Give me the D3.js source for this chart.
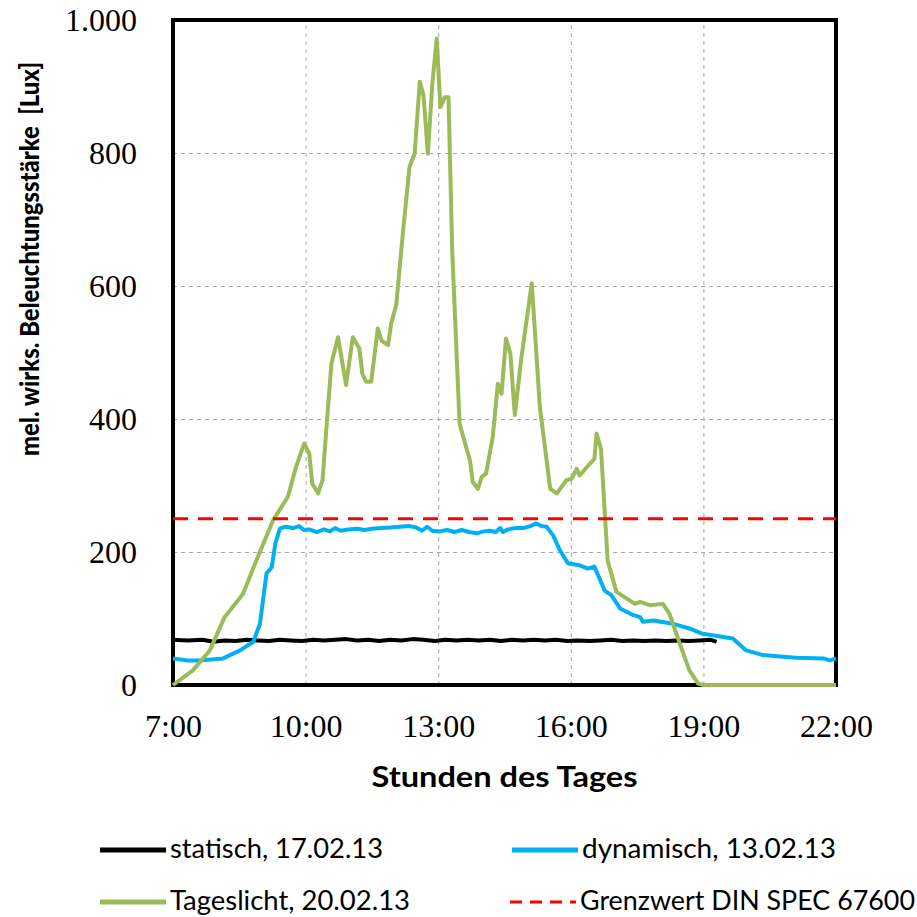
<!DOCTYPE html>
<html>
<head>
<meta charset="utf-8">
<script src="https://cdn.jsdelivr.net/npm/d3@7"></script>
<style>
  body { margin: 0; background: #fff; }
  svg { display: block; }
</style>
</head>
<body>
<div class="chart-container"></div>
<script>
// values: [time, lux]
const statisch = [
  ["7:00", 68], ["7:20", 67], ["7:40", 68], ["7:55", 65], ["8:10", 67], ["8:25", 66],
  ["8:40", 68], ["8:55", 67], ["9:10", 66], ["9:25", 68], ["9:40", 67], ["9:55", 66],
  ["10:10", 68], ["10:25", 67], ["10:40", 68], ["10:55", 69], ["11:10", 67], ["11:25", 68],
  ["11:40", 66], ["11:55", 68], ["12:10", 67], ["12:25", 69], ["12:40", 68], ["12:55", 66],
  ["13:10", 68], ["13:25", 67], ["13:40", 68], ["13:55", 67], ["14:10", 68], ["14:25", 66],
  ["14:40", 68], ["14:55", 67], ["15:10", 68], ["15:25", 67], ["15:40", 68], ["15:55", 66],
  ["16:10", 67], ["16:25", 66], ["16:40", 67], ["16:55", 68], ["17:10", 66], ["17:25", 67],
  ["17:40", 66], ["17:55", 67], ["18:10", 66], ["18:25", 67], ["18:40", 66], ["18:55", 67],
  ["19:10", 68], ["19:18", 65]
];

const dynamisch = [
  ["7:00", 40], ["7:20", 37], ["7:36", 37], ["8:08", 40], ["8:31", 52], ["8:49", 65],
  ["8:58", 92], ["9:07", 168], ["9:14", 177], ["9:19", 213], ["9:25", 235], ["9:33", 238],
  ["9:43", 236], ["9:51", 239], ["9:58", 233], ["10:05", 234], ["10:15", 230], ["10:25", 234],
  ["10:33", 231], ["10:40", 236], ["10:48", 232], ["10:58", 234], ["11:10", 235], ["11:20", 233],
  ["11:30", 235], ["11:42", 236], ["11:55", 237], ["12:08", 238], ["12:20", 239], ["12:30", 237],
  ["12:38", 232], ["12:45", 238], ["12:52", 232], ["13:02", 231], ["13:12", 233], ["13:22", 230],
  ["13:32", 233], ["13:42", 230], ["13:52", 228], ["14:02", 231], ["14:10", 232], ["14:18", 230],
  ["14:24", 236], ["14:28", 230], ["14:35", 234], ["14:45", 236], ["14:55", 236], ["15:05", 239],
  ["15:13", 243], ["15:20", 239], ["15:27", 238], ["15:36", 225], ["15:45", 203], ["15:56", 183],
  ["16:12", 180], ["16:23", 175], ["16:32", 178], ["16:46", 142], ["16:55", 135], ["17:07", 115],
  ["17:25", 105], ["17:34", 102], ["17:38", 95], ["17:52", 97], ["18:19", 92], ["18:41", 85],
  ["18:59", 77], ["19:40", 70], ["19:58", 52], ["20:21", 45], ["20:44", 43], ["21:06", 41],
  ["21:43", 40], ["21:52", 37], ["22:00", 40]
];

const tageslicht = [
  ["7:00", 0], ["7:27", 22], ["7:50", 52], ["8:10", 102], ["8:35", 137], ["8:53", 187],
  ["9:16", 248], ["9:36", 283], ["9:47", 328], ["9:58", 363], ["10:05", 348], ["10:09", 303],
  ["10:17", 288], ["10:23", 308], ["10:28", 383], ["10:35", 483], ["10:44", 523], ["10:55", 451],
  ["11:04", 523], ["11:13", 506], ["11:17", 468], ["11:22", 456], ["11:29", 456], ["11:38", 536],
  ["11:43", 518], ["11:52", 511], ["11:56", 543], ["12:03", 571], ["12:12", 679], ["12:21", 779],
  ["12:28", 799], ["12:35", 907], ["12:40", 887], ["12:46", 799], ["12:52", 904], ["12:58", 972],
  ["13:03", 869], ["13:09", 884], ["13:14", 884], ["13:19", 654], ["13:29", 393], ["13:43", 338],
  ["13:47", 305], ["13:54", 295], ["13:59", 313], ["14:05", 318], ["14:14", 373], ["14:21", 453],
  ["14:26", 438], ["14:32", 521], ["14:38", 498], ["14:44", 406], ["14:53", 493], ["15:07", 604],
  ["15:18", 418], ["15:32", 295], ["15:41", 288], ["15:54", 308], ["16:01", 310], ["16:08", 325],
  ["16:12", 315], ["16:26", 333], ["16:32", 340], ["16:35", 378], ["16:41", 355], ["16:50", 187],
  ["17:02", 140], ["17:27", 122], ["17:34", 125], ["17:47", 120], ["18:05", 122], ["18:14", 107],
  ["18:28", 62], ["18:41", 22], ["18:53", 2], ["19:00", 0], ["22:00", 0]
];

const grenzwert = 250;

const xTickLabels = ["7:00", "10:00", "13:00", "16:00", "19:00", "22:00"];
const yTickValues = [0, 200, 400, 600, 800, 1000];
const legendLabels = ["statisch, 17.02.13", "dynamisch, 13.02.13", "Tageslicht, 20.02.13", "Grenzwert DIN SPEC 67600"];

const width = 917;
const height = 917;
const margin = { top: 20, right: 81, bottom: 232, left: 173 };
const plotW = width - margin.left - margin.right;
const plotH = height - margin.top - margin.bottom;

const parseTime = d3.timeParse("%H:%M");
const de = d3.formatLocale({ decimal: ",", thousands: ".", grouping: [3], currency: ["", " €"] });

const x = d3.scaleTime()
  .domain([parseTime("7:00"), parseTime("22:00")])
  .range([0, plotW]);
const y = d3.scaleLinear().domain([0, 1000]).range([plotH, 0]);

const svg = d3.select(".chart-container")
  .append("svg")
  .attr("width", width)
  .attr("height", height);

const g = svg.append("g").attr("transform", `translate(${margin.left},${margin.top})`);

// gridlines
g.append("g")
  .attr("class", "grid")
  .call(d3.axisLeft(y).tickValues(yTickValues.slice(1, -1)).tickSize(-plotW).tickFormat(""))
  .call((s) => s.select(".domain").remove());
g.append("g")
  .attr("class", "grid")
  .attr("transform", `translate(0,${plotH})`)
  .call(d3.axisBottom(x).tickValues(xTickLabels.slice(1, -1).map(parseTime)).tickSize(-plotH).tickFormat(""))
  .call((s) => s.select(".domain").remove());
g.selectAll(".grid line")
  .attr("stroke", "#a6a6a6")
  .attr("stroke-width", 1)
  .attr("stroke-dasharray", "4,4");

// tick labels
const yAxis = g.append("g")
  .call(d3.axisLeft(y).tickValues(yTickValues).tickSize(0).tickPadding(36).tickFormat(de.format(",")));
const xAxis = g.append("g")
  .attr("transform", `translate(0,${plotH})`)
  .call(d3.axisBottom(x).tickValues(xTickLabels.map(parseTime)).tickSize(0).tickPadding(29).tickFormat(d3.timeFormat("%-H:%M")));
[xAxis, yAxis].forEach((a) => {
  a.select(".domain").remove();
  a.selectAll("text")
    .attr("font-family", "'Liberation Serif', 'Times New Roman', serif")
    .attr("font-size", 32)
    .attr("fill", "#000");
});

// frame
g.append("rect")
  .attr("width", plotW)
  .attr("height", plotH)
  .attr("fill", "none")
  .attr("stroke", "#000")
  .attr("stroke-width", 4);

const line = d3.line()
  .x((d) => x(parseTime(d[0])))
  .y((d) => y(d[1]));

const series = [
  { data: statisch, color: "#000000" },
  { data: dynamisch, color: "#00b0f0" },
  { data: tageslicht, color: "#9bbb59" }
];

series.forEach((s) => {
  g.append("path")
    .datum(s.data)
    .attr("fill", "none")
    .attr("stroke", s.color)
    .attr("stroke-width", 4)
    .attr("stroke-linejoin", "round")
    .attr("d", line);
});

g.append("line")
  .attr("x1", 0)
  .attr("x2", plotW)
  .attr("y1", y(grenzwert))
  .attr("y2", y(grenzwert))
  .attr("stroke", "#ff0000")
  .attr("stroke-width", 3)
  .attr("stroke-dasharray", "15,10");

// axis titles
svg.append("text")
  .attr("x", margin.left + plotW / 2)
  .attr("y", 787)
  .attr("text-anchor", "middle")
  .attr("font-family", "Lato, 'Open Sans', sans-serif")
  .attr("font-weight", "bold")
  .attr("font-size", 28)
  .attr("textLength", 266)
  .attr("lengthAdjust", "spacingAndGlyphs")
  .text("Stunden des Tages");

svg.append("text")
  .attr("transform", "translate(39,259) rotate(-90)")
  .attr("text-anchor", "middle")
  .attr("font-family", "Lato, 'Open Sans', sans-serif")
  .attr("font-weight", 900)
  .attr("font-size", 27)
  .attr("textLength", 394)
  .attr("lengthAdjust", "spacingAndGlyphs")
  .style("white-space", "pre")
  .text("mel. wirks. Beleuchtungsstärke  [Lux]");

// legend
const legendItems = [
  { label: legendLabels[0], color: "#000000", dash: null, x: 100, y: 850, w: 213 },
  { label: legendLabels[1], color: "#00b0f0", dash: null, x: 512, y: 850, w: 254 },
  { label: legendLabels[2], color: "#9bbb59", dash: null, x: 100, y: 902, w: 240 },
  { label: legendLabels[3], color: "#ff0000", dash: "12,8", x: 510, y: 902, w: 335 }
];

const legend = svg.selectAll("g.legend")
  .data(legendItems)
  .enter()
  .append("g")
  .attr("class", "legend")
  .attr("transform", (d) => `translate(${d.x},${d.y})`);

legend.append("line")
  .attr("x1", 0)
  .attr("x2", 66)
  .attr("stroke", (d) => d.color)
  .attr("stroke-width", (d) => (d.dash ? 3 : 5))
  .attr("stroke-dasharray", (d) => d.dash);

legend.append("text")
  .attr("x", 70)
  .attr("y", 8)
  .attr("font-family", "Lato, 'Open Sans', sans-serif")
  .attr("font-size", 26)
  .attr("fill", "#000")
  .attr("textLength", (d) => d.w)
  .attr("lengthAdjust", "spacingAndGlyphs")
  .text((d) => d.label);
</script>
</body>
</html>
